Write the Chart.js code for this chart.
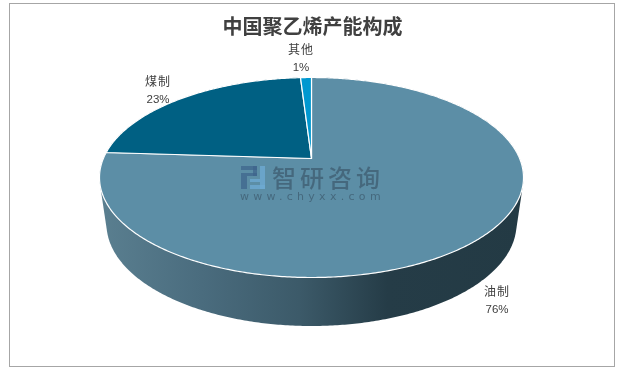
<!DOCTYPE html>
<html>
<head>
<meta charset="utf-8">
<style>
  html, body { margin: 0; padding: 0; background: #fff; }
  #wrap { position: relative; width: 621px; height: 370px; }
  #frame { position: absolute; left: 9px; top: 3px; width: 604px; height: 362px; border: 1px solid #a6a6a6; }
</style>
</head>
<body>
<div id="wrap">
  <div id="frame"></div>
  <canvas id="pie" width="621" height="370"></canvas>
</div>
<script src="https://cdn.jsdelivr.net/npm/chart.js@4"></script>
<script>
const TITLE = "中国聚乙烯产能构成";
const categories = ["油制", "煤制", "其他"];
const shares = [76, 23, 1];
const sliceColors = ["#5c8ea6", "#006083", "#0098d0"];
const wallStops = [[0, "#5a7f90"], [0.24, "#4a6c7e"], [0.47, "#3c5a69"], [0.68, "#253c47"], [1, "#233a44"]];
const labelSpots = [[497, 291], [158, 81], [301, 49]];

// 화면에 보이는 타원 (원근 때문에 꼭지점이 타원 중심보다 위에 있음)
const TOP = { cx: 311.5, cy: 177.5, rx: 212, ry: 100 };
const BOTTOM = { cx: 311.5, cy: 224, rx: 205, ry: 102 };
const TILT = -0.19;

function project(e, angle) {
  const x = Math.cos(angle), y = Math.sin(angle);
  const d = 1 + TILT * y;
  return [
    e.cx + e.rx * x * Math.sqrt(1 - TILT * TILT) / d,
    e.cy + e.ry * (y + TILT) / d,
  ];
}

function rim(e, from, to) {
  const n = Math.max(2, Math.ceil(Math.abs(to - from) / 0.01));
  const pts = [];
  for (let i = 0; i <= n; i++) pts.push(project(e, from + (to - from) * i / n));
  return pts;
}

function tracePath(ctx, pts) {
  pts.forEach((p, i) => i ? ctx.lineTo(p[0], p[1]) : ctx.moveTo(p[0], p[1]));
}

// 옆면은 위/아래 테두리의 볼록 껍질로 채운다
function hull(points) {
  const pts = points.slice().sort((a, b) => a[0] - b[0] || a[1] - b[1]);
  const cross = (o, a, b) => (a[0] - o[0]) * (b[1] - o[1]) - (a[1] - o[1]) * (b[0] - o[0]);
  const half = list => {
    const out = [];
    list.forEach(p => {
      while (out.length > 1 && cross(out[out.length - 2], out[out.length - 1], p) <= 0) out.pop();
      out.push(p);
    });
    out.pop();
    return out;
  };
  return half(pts).concat(half(pts.slice().reverse()));
}

function drawWatermark(ctx) {
  ctx.fillStyle = "rgba(61,90,110,0.72)";
  ctx.textAlign = "left";
  ctx.font = '500 24px "Noto Sans CJK SC"';
  ctx.letterSpacing = "4px";
  ctx.fillText("智研咨询", 272, 178);
  ctx.font = '11px "DejaVu Sans"';
  ctx.letterSpacing = "4.3px";
  ctx.fillText("www.chyxx.com", 240, 197);
  ctx.letterSpacing = "0px";
  ctx.fillStyle = "rgba(61,100,140,0.7)";
  ctx.fillRect(241, 166, 16, 4);
  ctx.fillRect(241, 173, 16, 3);
  ctx.fillRect(241, 176, 6, 13);
  ctx.fillRect(253, 166, 4, 10);
  ctx.fillStyle = "rgba(110,170,210,0.8)";
  ctx.fillRect(260, 166, 5, 23);
  ctx.fillRect(250, 185, 15, 4);
  ctx.fillRect(250, 179, 10, 3);
}

const pie3d = {
  id: "pie3d",
  beforeDatasetsDraw(chart) {
    const { ctx } = chart;
    const arcs = chart.getDatasetMeta(0).data;

    const grad = ctx.createLinearGradient(100, 0, 523, 0);
    wallStops.forEach(s => grad.addColorStop(s[0], s[1]));

    ctx.save();
    arcs.forEach(a => {
      const top = rim(TOP, a.startAngle, a.endAngle);
      const bot = rim(BOTTOM, a.startAngle, a.endAngle);
      ctx.beginPath();
      tracePath(ctx, hull(top.concat(bot)));
      ctx.closePath();
      ctx.fillStyle = grad;
      ctx.fill();
    });
    arcs.forEach((a, i) => {
      const apex = [TOP.cx, TOP.cy + TOP.ry * TILT];
      ctx.beginPath();
      tracePath(ctx, [apex].concat(rim(TOP, a.startAngle, a.endAngle)));
      ctx.closePath();
      ctx.fillStyle = sliceColors[i];
      ctx.fill();
      ctx.lineWidth = 1.2;
      ctx.strokeStyle = "#ffffff";
      ctx.lineJoin = "round";
      ctx.stroke();
    });
    ctx.restore();
    return false;
  },
  afterDraw(chart) {
    const { ctx } = chart;
    ctx.save();
    ctx.textAlign = "center";
    ctx.textBaseline = "middle";
    categories.forEach((c, i) => {
      const [x, y] = labelSpots[i];
      ctx.fillStyle = "#404040";
      ctx.font = '12px "Noto Sans CJK SC"';
      ctx.letterSpacing = "1px";
      ctx.fillText(c, x, y);
      ctx.letterSpacing = "0px";
      ctx.font = '11.5px "Liberation Sans"';
      ctx.fillText(shares[i] + "%", x, y + 19);
    });
    drawWatermark(ctx);
    ctx.restore();
  },
};

new Chart(document.getElementById("pie"), {
  type: "pie",
  data: {
    labels: categories,
    datasets: [{ data: shares, backgroundColor: sliceColors }],
  },
  options: {
    responsive: false,
    animation: false,
    rotation: 0,
    layout: { padding: { left: 4 } },
    plugins: {
      legend: { display: false },
      tooltip: { enabled: false },
      title: {
        display: true,
        text: TITLE,
        color: "#404040",
        font: { family: '"Noto Sans CJK SC"', size: 20, weight: "bold" },
        padding: { top: 14, bottom: 4 },
      },
    },
  },
  plugins: [pie3d],
});
</script>
</body>
</html>
